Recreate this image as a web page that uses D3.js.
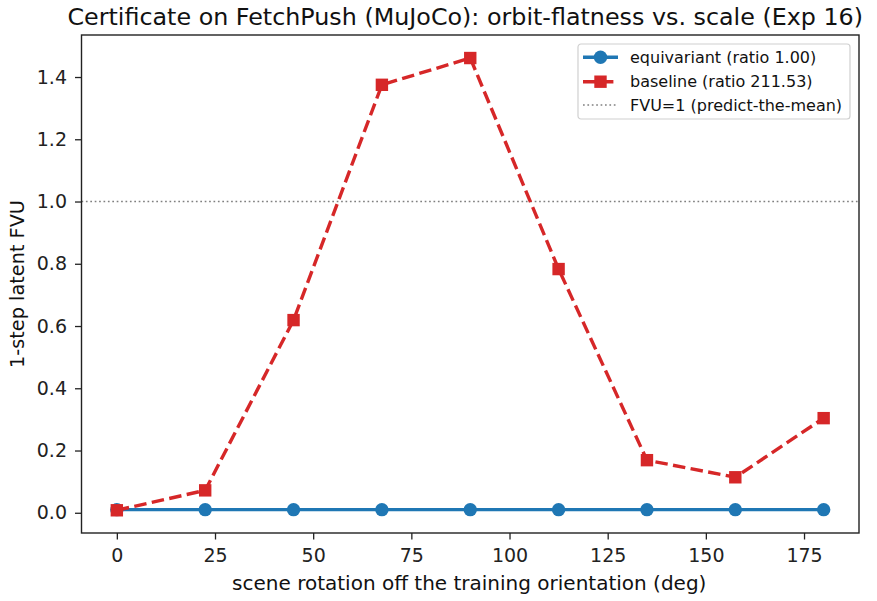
<!DOCTYPE html>
<html>
<head>
<meta charset="utf-8">
<script src="https://cdn.jsdelivr.net/npm/d3@7"></script>
<style>
  body { margin: 0; background: #fff; }
  svg { display: block; font-family: "DejaVu Sans", sans-serif; }
</style>
</head>
<body>
<div id="chart"></div>
<script>
var angles = [0, 22.5, 45, 67.5, 90, 112.5, 135, 157.5, 180]
var equivariant = [0.010, 0.010, 0.010, 0.010, 0.010, 0.010, 0.010, 0.010, 0.010]
var baseline = [0.008, 0.072, 0.619, 1.375, 1.461, 0.783, 0.169, 0.114, 0.304]
var xTicks = [0, 25, 50, 75, 100, 125, 150, 175]
var yTicks = [0.0, 0.2, 0.4, 0.6, 0.8, 1.0, 1.2, 1.4]
var legendLabels = ['equivariant (ratio 1.00)', 'baseline (ratio 211.53)', 'FVU=1 (predict-the-mean)']

var W = 877, H = 601
var margin = {left: 81.5, right: 18, top: 35, bottom: 68}
var width = W - margin.left - margin.right
var height = H - margin.top - margin.bottom

var blue = '#1f77b4', red = '#d62728'

var svg = d3.select('#chart').append('svg').attr('width', W).attr('height', H)
var g = svg.append('g').attr('transform', 'translate(' + margin.left + ',' + margin.top + ')')

var x = d3.scaleLinear().domain([-9, 189]).range([0, width])
var y = d3.scaleLinear().domain([-0.065, 1.535]).range([height, 0])

// axes
var xAxis = g.append('g').attr('transform', 'translate(0,' + height + ')')
  .call(d3.axisBottom(x).tickValues(xTicks).tickSize(6.5).tickPadding(9.5).tickFormat(d3.format('d')))
var yAxis = g.append('g')
  .call(d3.axisLeft(y).tickValues(yTicks).tickSize(6.5).tickPadding(8).tickFormat(d3.format('.1f')))

;[xAxis, yAxis].forEach(function(a){
  a.select('.domain').remove()
  a.selectAll('line').attr('stroke', '#222').attr('stroke-width', 1.3)
  a.selectAll('text').attr('fill', '#222').style('font-size', '19px').style('font-family', '"DejaVu Sans", sans-serif')
})

// reference line
g.append('line')
  .attr('x1', 0).attr('x2', width)
  .attr('y1', y(1)).attr('y2', y(1))
  .attr('stroke', '#808080').attr('stroke-width', 1.5)
  .attr('stroke-dasharray', '1.7,2.7')

var line = d3.line().x(function(d, i){ return x(angles[i]) }).y(function(d){ return y(d) })

// equivariant
g.append('path').attr('d', line(equivariant))
  .attr('fill', 'none').attr('stroke', blue).attr('stroke-width', 3.4)
g.selectAll('circle.eq').data(equivariant).enter().append('circle')
  .attr('cx', function(d, i){ return x(angles[i]) })
  .attr('cy', function(d){ return y(d) })
  .attr('r', 6.7).attr('fill', blue)

// baseline
g.append('path').attr('d', line(baseline))
  .attr('fill', 'none').attr('stroke', red).attr('stroke-width', 3.4)
  .attr('stroke-dasharray', '12.5,5.4')
g.selectAll('rect.base').data(baseline).enter().append('rect')
  .attr('x', function(d, i){ return x(angles[i]) - 6.2 })
  .attr('y', function(d){ return y(d) - 6.2 })
  .attr('width', 12.4).attr('height', 12.4).attr('fill', red)

// frame
g.append('rect').attr('width', width).attr('height', height)
  .attr('fill', 'none').attr('stroke', '#222').attr('stroke-width', 1.4)

// title and labels
svg.append('text').attr('x', margin.left + width / 2 - 5).attr('y', 24.5)
  .attr('text-anchor', 'middle').style('font-size', '23.8px').attr('fill', '#111')
  .text('Certificate on FetchPush (MuJoCo): orbit-flatness vs. scale (Exp 16)')
svg.append('text').attr('x', margin.left + width / 2 - 1).attr('y', 590)
  .attr('text-anchor', 'middle').style('font-size', '20px').attr('fill', '#111')
  .text('scene rotation off the training orientation (deg)')
svg.append('text')
  .attr('transform', 'translate(24,' + (margin.top + height / 2) + ') rotate(-90)')
  .attr('text-anchor', 'middle').style('font-size', '19.3px').attr('fill', '#111')
  .text('1-step latent FVU')

// legend
var lg = svg.append('g').attr('transform', 'translate(578,44)')
lg.append('rect').attr('width', 272).attr('height', 75).attr('rx', 3)
  .attr('fill', '#fff').attr('fill-opacity', 0.8).attr('stroke', '#d0d0d0').attr('stroke-width', 1.2)
var rows = [13.3, 37.7, 61]
legendLabels.forEach(function(t, i){
  var r = lg.append('g').attr('transform', 'translate(0,' + rows[i] + ')')
  if (i === 0) {
    r.append('line').attr('x1', 5).attr('x2', 40).attr('stroke', blue).attr('stroke-width', 3.4)
    r.append('circle').attr('cx', 22.5).attr('r', 6.7).attr('fill', blue)
  } else if (i === 1) {
    r.append('line').attr('x1', 5).attr('x2', 40).attr('stroke', red).attr('stroke-width', 3.4)
      .attr('stroke-dasharray', '12.5,5.4')
    r.append('rect').attr('x', 16.3).attr('y', -6.2).attr('width', 12.4).attr('height', 12.4).attr('fill', red)
  } else {
    r.append('line').attr('x1', 5).attr('x2', 40).attr('stroke', '#808080').attr('stroke-width', 1.5)
      .attr('stroke-dasharray', '1.7,2.7')
  }
  r.append('text').attr('x', 52).attr('y', 5.5).style('font-size', '16px').attr('fill', '#111').text(t)
})
</script>
</body>
</html>
